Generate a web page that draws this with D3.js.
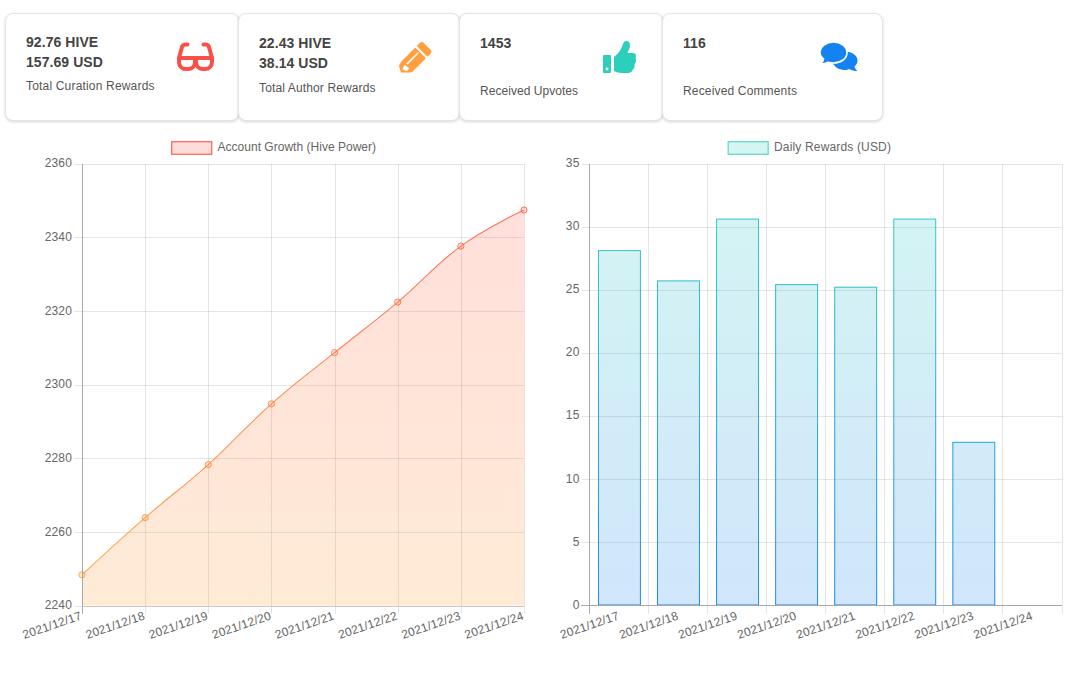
<!DOCTYPE html>
<html>
<head>
<meta charset="utf-8">
<script src="https://cdnjs.cloudflare.com/ajax/libs/d3/7.8.5/d3.min.js"></script>
<style>
body { margin: 0; background: #fff; font-family: "Liberation Sans", Arial, sans-serif; }
#page { position: relative; width: 1071px; height: 679px; overflow: hidden; }
.card { position: absolute; top: 13px; height: 106px; box-sizing: content-box; background: #fff;
  border: 1px solid #e4e4e4; border-radius: 8px; box-shadow: 0 1px 3px rgba(0,0,0,.16); }
.card .num { position: absolute; font-size: 14px; font-weight: bold; color: #444; line-height: 20px; white-space: pre; letter-spacing: .06px; }
.card .lab { position: absolute; font-size: 12px; color: #555; white-space: nowrap; }
#charts { position: absolute; left: 0; top: 0; }
#charts text { font-family: "Liberation Sans", Arial, sans-serif; font-size: 12px; fill: #666; letter-spacing: .15px; }
</style>
</head>
<body>
<div id="page"></div>
<script>
// values
const days = ['2021/12/17', '2021/12/18', '2021/12/19', '2021/12/20', '2021/12/21', '2021/12/22', '2021/12/23', '2021/12/24']
const hivePower = [2248.4, 2263.9, 2278.3, 2294.8, 2308.7, 2322.4, 2337.6, 2347.4]
const dailyRewards = [28.1, 25.7, 30.6, 25.4, 25.2, 30.6, 12.9, null]
const growthTicks = [2240, 2260, 2280, 2300, 2320, 2340, 2360]
const rewardTicks = [0, 5, 10, 15, 20, 25, 30, 35]

const cardLines = [
    ['92.76 HIVE\n157.69 USD', 'Total Curation Rewards'],
    ['22.43 HIVE\n38.14 USD', 'Total Author Rewards'],
    ['1453', 'Received Upvotes'],
    ['116', 'Received Comments']
]
// left, width, text x, number top, label top, label spacing
const cardBoxes = [[5, 232, 20, 18, 65, .18], [238, 220, 20, 19, 67, .13], [459, 202, 20, 19, 70, .04], [662, 219, 20, 19, 70, .16]]

const page = d3.select('#page')

// stat cards
cardLines.forEach((c, i) => {
    const b = cardBoxes[i]
    const card = page.append('div').attr('class', 'card')
        .style('left', b[0] + 'px').style('width', b[1] + 'px')
    card.append('div').attr('class', 'num')
        .style('left', b[2] + 'px').style('top', b[3] + 'px').text(c[0])
    card.append('div').attr('class', 'lab')
        .style('left', b[2] + 'px').style('top', b[4] + 'px')
        .style('letter-spacing', b[5] + 'px').text(c[1])
})

const svg = page.append('svg').attr('id', 'charts').attr('width', 1071).attr('height', 679)
const defs = svg.append('defs')

const addGrad = (id, y1, y2, from, to, op) => {
    const g = defs.append('linearGradient').attr('id', id)
        .attr('gradientUnits', 'userSpaceOnUse')
        .attr('x1', 0).attr('x2', 0).attr('y1', y1).attr('y2', y2)
    g.append('stop').attr('offset', 0).attr('stop-color', from).attr('stop-opacity', op)
    g.append('stop').attr('offset', 1).attr('stop-color', to).attr('stop-opacity', op)
}
addGrad('growthLine', 164, 606, '#fb5a4c', '#ffa63e', 0.9)
addGrad('growthFill', 164, 606, '#ff5a4a', '#ff9a33', 0.2)
addGrad('rewardLine', 164, 605, '#2bcfbc', '#1283f0', 0.95)
addGrad('rewardFill', 164, 605, '#2bcfbc', '#1283f0', 0.2)

// icons, no icon font available here
const icons = svg.append('g').attr('id', 'icons')
const glasses = icons.append('g').attr('fill', 'none').attr('stroke', '#f9504a').attr('stroke-width', 4).attr('stroke-linecap', 'round').attr('stroke-linejoin', 'round')
glasses.append('path').attr('d', 'M179 58H195V62C195 66 192 69 188 69H186C182 69 179 66 179 62Z')
glasses.append('path').attr('d', 'M212 58H196V62C196 66 199 69 203 69H205C209 69 212 66 212 62Z')
glasses.append('path').attr('d', 'M187.5 44.5H185.5C183.5 44.5 182.5 45.5 182 47L179 58')
glasses.append('path').attr('d', 'M203.5 44.5H205.5C207.5 44.5 208.5 45.5 209 47L212 58')

const pencil = icons.append('g').attr('transform', 'translate(401,72.5) rotate(-45) scale(0.84)')
pencil.append('path').attr('fill', '#ff9f40')
    .attr('d', 'M0 0L4 -7.5 L10 -9 H33 V9 H10 L8 8 Z')
pencil.append('path').attr('fill', '#ff9f40')
    .attr('d', 'M35.5 -9 H41 a3 3 0 0 1 3 3 V6 a3 3 0 0 1 -3 3 H35.5 Z')
pencil.append('path').attr('fill', '#fff').attr('d', 'M4 -1.5 L9.5 -3.5 L10.5 3.5 L6 4 Z')
pencil.append('rect').attr('fill', '#fff').attr('x', 12).attr('y', -3).attr('width', 19).attr('height', 1.8)

const thumb = icons.append('g').attr('fill', '#2bcfbc')
thumb.append('rect').attr('x', 603).attr('y', 55).attr('width', 8).attr('height', 18).attr('rx', 1)
thumb.append('circle').attr('cx', 607).attr('cy', 69).attr('r', 1.4).attr('fill', '#fff')
thumb.append('path').attr('d', 'M614 57C618 54 621 50 623 44C624 40 630 40 630 45C630 49 628 51 627.5 53H633C636 53 636.5 56 635.5 58C636.5 60 636 63 634.5 64C635 67 634 69 632.5 70C632 72 630 73 628 73H622C619 73 616 72 614 71Z')

const talk = icons.append('g').attr('fill', '#1283f0')
talk.append('path').attr('d', 'M845 51.5C852 51.5 857.5 55.5 857.5 60.5C857.5 63 856.3 65 854.5 66.5C855 68.5 856.3 70 857.5 71C854.5 71 851.5 70.5 849.5 69C847.5 69.8 846.5 70 845 70C838 70 832.5 65.8 832.5 60.5C832.5 55.5 838 51.5 845 51.5Z')
talk.append('path').attr('stroke', '#fff').attr('stroke-width', 1.6)
    .attr('d', 'M833.5 42C841 42 847 46.5 847 52.5C847 58.5 841 63 833.5 63C831.5 63 830 62.7 828 62.2C826 63.6 823.5 64 820.5 64C822 62.8 823.3 61 823.6 59C821.3 57.3 820 55 820 52.5C820 46.5 826 42 833.5 42Z')

// left chart
const growthX = d3.scalePoint().domain(days).range([82, 524])
const growthY = d3.scaleLinear().domain([2240, 2360]).range([605.7, 163.6])

const drawFrame = (root, y, ticks, left, right) => {
    const yAxis = d3.axisLeft(y).tickValues(ticks).tickSize(right - left + 8).tickPadding(2).tickFormat(d3.format('d'))
    const g = root.append('g').attr('transform', `translate(${right}, 0)`).call(yAxis)
    g.select('.domain').remove()
    g.selectAll('line').attr('stroke', 'rgba(0,0,0,0.1)').attr('shape-rendering', 'crispEdges')
    g.selectAll('text').attr('x', -(right - left + 10)).attr('dy', '0.26em')
}

const growth = svg.append('g').attr('id', 'growth')
drawFrame(growth, growthY, growthTicks, 82, 524)

const gx = growth.append('g').attr('transform', 'translate(0, 164)')
    .call(d3.axisBottom(growthX).tickSize(450).tickFormat(''))
gx.select('.domain').remove()
gx.selectAll('line').attr('stroke', 'rgba(0,0,0,0.1)').attr('shape-rendering', 'crispEdges')

const curve = d3.curveCardinal.tension(-0.2)
const growthArea = d3.area().x((d, i) => growthX(days[i])).y0(growthY(2240)).y1(d => growthY(d)).curve(curve)
const growthLine = d3.line().x((d, i) => growthX(days[i])).y(d => growthY(d)).curve(curve)

growth.append('path').attr('d', growthArea(hivePower)).attr('fill', 'url(#growthFill)')
growth.append('path').attr('d', growthLine(hivePower)).attr('fill', 'none').attr('stroke', 'url(#growthLine)').attr('stroke-width', 1.1)
growth.selectAll('circle').data(hivePower).enter().append('circle')
    .attr('cx', (d, i) => growthX(days[i])).attr('cy', d => growthY(d)).attr('r', 3.1)
    .attr('fill', 'url(#growthFill)').attr('stroke', 'url(#growthLine)').attr('stroke-width', 1)

growth.append('line').attr('x1', 82).attr('x2', 82).attr('y1', 164).attr('y2', 614)
    .attr('stroke', '#a8a8a8').attr('shape-rendering', 'crispEdges')
growth.append('line').attr('x1', 82).attr('x2', 524).attr('y1', 606).attr('y2', 606)
    .attr('stroke', '#c8c8c8').attr('shape-rendering', 'crispEdges')

growth.selectAll('.xlab').data(days).enter().append('text').attr('class', 'xlab')
    .attr('text-anchor', 'end')
    .attr('transform', d => `translate(${growthX(d) + 0.5}, 619) rotate(-19)`)
    .text(d => d)

// right chart
const rewardX = d3.scaleBand().domain(days).range([589.5, 1062]).paddingInner(0.29).paddingOuter(0.145)
const rewardY = d3.scaleLinear().domain([0, 35]).range([605, 163.6])
const gridX = d3.scaleLinear().domain([0, days.length]).range([589.5, 1062])

const reward = svg.append('g').attr('id', 'rewards')
drawFrame(reward, rewardY, rewardTicks, 589.5, 1062)

reward.selectAll('.gridx').data(d3.range(days.length + 1)).enter().append('line').attr('class', 'gridx')
    .attr('x1', d => gridX(d)).attr('x2', d => gridX(d)).attr('y1', 164).attr('y2', 614)
    .attr('stroke', 'rgba(0,0,0,0.1)').attr('shape-rendering', 'crispEdges')

reward.selectAll('.bar').data(dailyRewards.filter(d => d !== null)).enter().append('rect').attr('class', 'bar')
    .attr('x', (d, i) => rewardX(days[i]) + 0.4).attr('width', rewardX.bandwidth())
    .attr('y', d => rewardY(d)).attr('height', d => rewardY(0) - rewardY(d))
    .attr('fill', 'url(#rewardFill)').attr('stroke', 'url(#rewardLine)').attr('stroke-width', 1)

reward.append('line').attr('x1', 589.5).attr('x2', 589.5).attr('y1', 164).attr('y2', 614)
    .attr('stroke', '#a8a8a8').attr('shape-rendering', 'crispEdges')
reward.append('line').attr('x1', 581).attr('x2', 1062).attr('y1', 605).attr('y2', 605)
    .attr('stroke', '#a8a8a8').attr('shape-rendering', 'crispEdges')

reward.selectAll('.xlab').data(days).enter().append('text').attr('class', 'xlab')
    .attr('text-anchor', 'end')
    .attr('transform', d => `translate(${rewardX(d) + rewardX.bandwidth() / 2 + 1}, 619) rotate(-19)`)
    .text(d => d)

// legends
const addLegend = (x, w, label, stroke, fill, spacing) => {
    svg.append('rect').attr('x', x + 0.7).attr('y', 141.7).attr('width', w).attr('height', 12.6)
        .attr('fill', fill).attr('stroke', stroke).attr('stroke-width', 1.4)
    svg.append('text').attr('x', x + w + 6.5).attr('y', 151).style('letter-spacing', spacing + 'px').text(label)
}
addLegend(171, 40, 'Account Growth (Hive Power)', '#f9756c', '#fddcd9', 0.02)
addLegend(727.5, 40, 'Daily Rewards (USD)', '#6fdccf', '#d4f5f2', 0.16)
</script>
</body>
</html>
